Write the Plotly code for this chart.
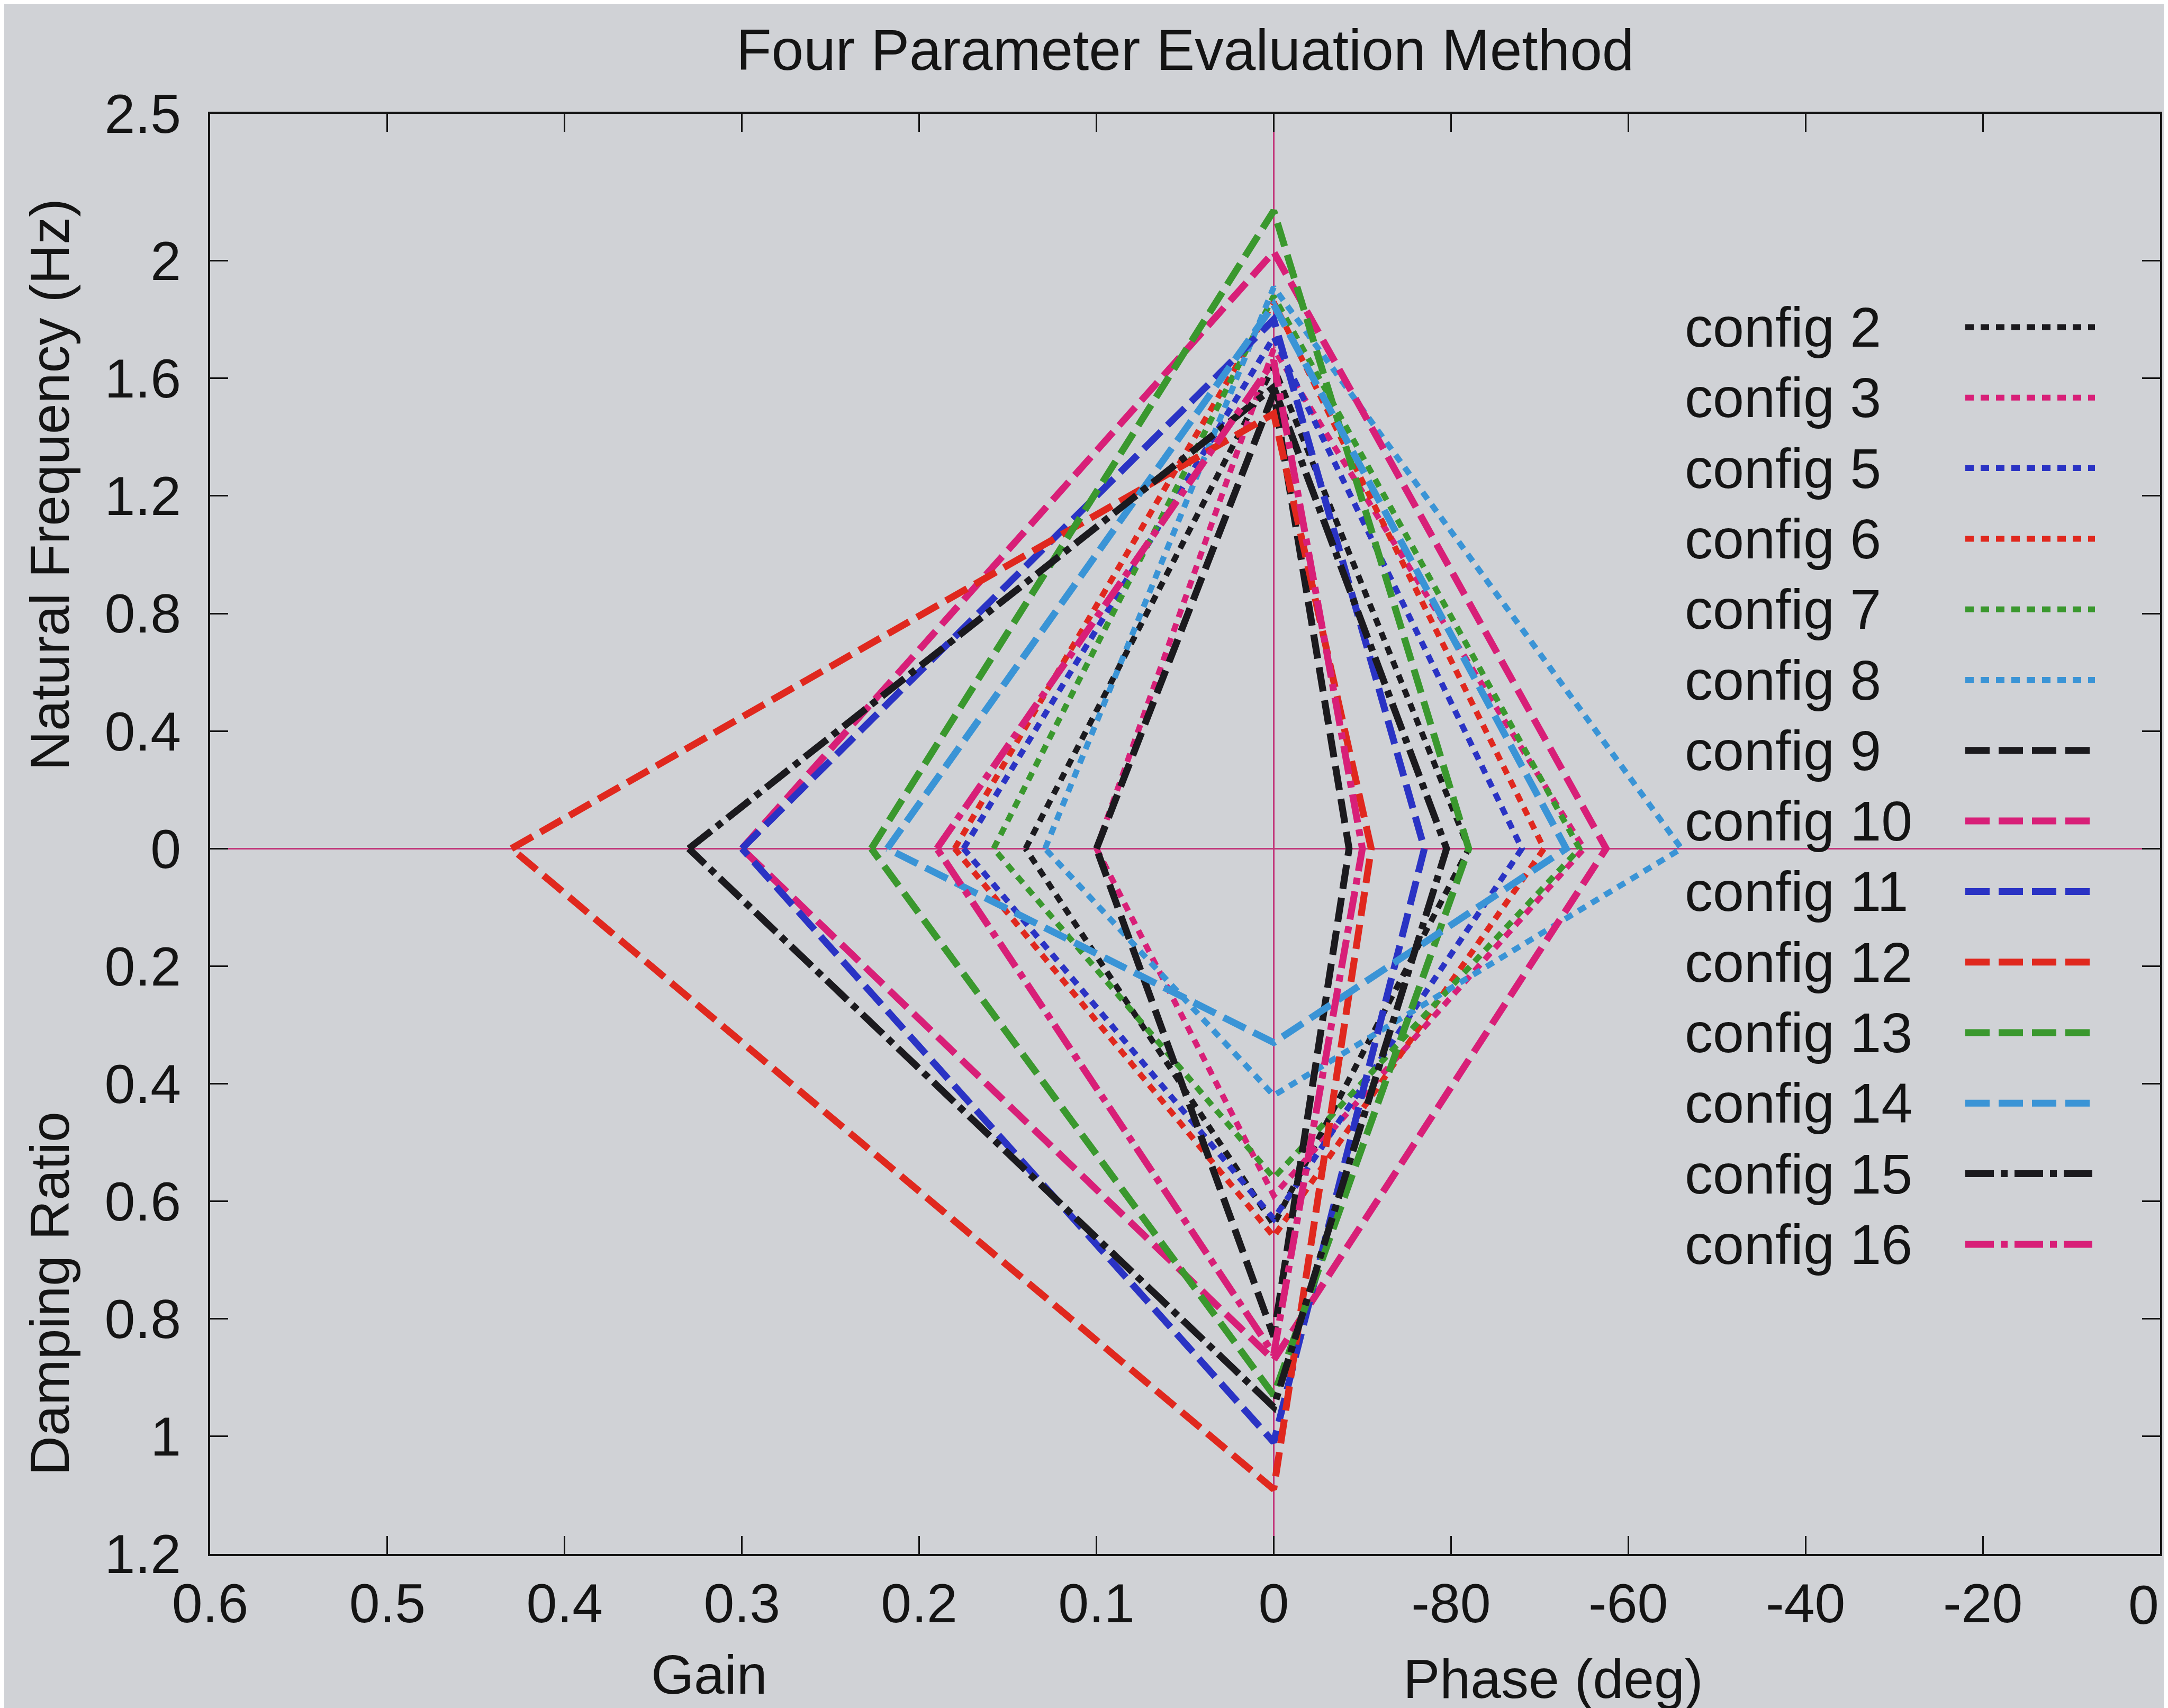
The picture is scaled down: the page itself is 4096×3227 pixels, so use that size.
import plotly.graph_objects as go

# ---- data ----
configs = ["config 2", "config 3", "config 5", "config 6", "config 7", "config 8",
           "config 9", "config 10", "config 11", "config 12", "config 13", "config 14",
           "config 15", "config 16"]
gain = [0.14, 0.10, 0.175, 0.18, 0.158, 0.129, 0.10, 0.30, 0.30, 0.43, 0.227, 0.218, 0.33, 0.19]
nat_freq_hz = [1.64, 1.70, 1.74, 1.86, 1.88, 1.91, 1.55, 2.03, 1.80, 1.48, 2.17, 1.85, 1.57, 1.66]
phase_deg = [-78, -65, -72, -69.5, -65.5, -54, -91.5, -62.5, -83, -89, -78, -67, -80.5, -90]
damping = [0.64, 0.59, 0.63, 0.66, 0.56, 0.42, 0.83, 0.87, 1.01, 1.09, 0.93, 0.33, 0.95, 0.86]

BLACK, PINK, BLUE, RED, GREEN, SKY = "#1b1a1e", "#d81f78", "#2a33c4", "#e0281e", "#3a982e", "#3a94d6"
line_colors = [BLACK, PINK, BLUE, RED, GREEN, SKY,
               BLACK, PINK, BLUE, RED, GREEN, SKY,
               BLACK, PINK]
DOT, DASH, DASHDOT = "16px,13px", "46px,17px", "54px,13px,13px,13px"
line_dashes = [DOT] * 6 + [DASH] * 6 + [DASHDOT] * 2
line_widths = [11] * 6 + [13] * 8

x_tick_vals = [-0.6, -0.5, -0.4, -0.3, -0.2, -0.1, 0.0, 0.1, 0.2, 0.3, 0.4, 0.5]
x_tick_text = ["0.6", "0.5", "0.4", "0.3", "0.2", "0.1", "0", "-80", "-60", "-40", "-20", "0"]
y_tick_vals = [1.25, 1.0, 0.8, 0.6, 0.4, 0.2, 0.0, -0.2, -0.4, -0.6, -0.8, -1.0, -1.2]
y_tick_text = ["2.5", "2", "1.6", "1.2", "0.8", "0.4", "0", "0.2", "0.4", "0.6", "0.8", "1", "1.2"]

FONT = "Liberation Sans, Arial, sans-serif"
TXT = "#141414"
BG = "#d0d2d6"

fig = go.Figure()
for i, name in enumerate(configs):
    # four-quadrant mapping: gain to the left, phase to the right,
    # natural frequency upward (half scale), damping ratio downward
    xg = -gain[i]
    yf = nat_freq_hz[i] * 0.5
    xp = (phase_deg[i] + 100.0) / 200.0
    yd = -damping[i]
    fig.add_trace(go.Scatter(
        x=[xg, 0, xp, 0, xg], y=[0, yf, 0, yd, 0],
        mode="lines", name=name, showlegend=False,
        line=dict(color=line_colors[i], dash=line_dashes[i], width=line_widths[i]),
        hoverinfo="name"))

# plot-area geometry in pixels (for key placement)
W, H = 4096, 3227
ML, MR, MT, MB = 389, 23, 207, 299
PW, PH = W - ML - MR, H - MT - MB

def px_to_paper_x(px):
    return (px - ML) / PW

def px_to_paper_y(py):
    return (H - MB - py) / PH

annotations = [
    dict(text="Four Parameter Evaluation Method", x=0.5, y=px_to_paper_y(86),
         xref="paper", yref="paper", showarrow=False, xanchor="center", yanchor="middle",
         font=dict(family=FONT, size=109, color=TXT)),
    dict(text="Gain", x=px_to_paper_x(1332), y=px_to_paper_y(3156),
         xref="paper", yref="paper", showarrow=False, xanchor="center", yanchor="middle",
         font=dict(family=FONT, size=104, color=TXT)),
    dict(text="Phase (deg)", x=px_to_paper_x(2926), y=px_to_paper_y(3164),
         xref="paper", yref="paper", showarrow=False, xanchor="center", yanchor="middle",
         font=dict(family=FONT, size=104, color=TXT)),
    dict(text="Natural Frequency (Hz)", x=px_to_paper_x(86), y=px_to_paper_y(908),
         xref="paper", yref="paper", showarrow=False, xanchor="center", yanchor="middle",
         textangle=-90, font=dict(family=FONT, size=104, color=TXT)),
    dict(text="Damping Ratio", x=px_to_paper_x(86), y=px_to_paper_y(2436),
         xref="paper", yref="paper", showarrow=False, xanchor="center", yanchor="middle",
         textangle=-90, font=dict(family=FONT, size=104, color=TXT)),
    # last phase tick label (0 deg) sits at the right border; kept inside the page
    dict(text=x_tick_text[-1], x=x_tick_vals[-1], y=px_to_paper_y(3024),
         xref="x", yref="paper", showarrow=False, xanchor="right", yanchor="middle",
         font=dict(family=FONT, size=104, color=TXT)),
]

shapes = []
KEY_TEXT_X = px_to_paper_x(3173)
KEY_X0, KEY_X1 = px_to_paper_x(3705), px_to_paper_x(3950)
for i, name in enumerate(configs):
    yrow = px_to_paper_y(610 + 133.3 * i)
    annotations.append(dict(text=name, x=KEY_TEXT_X, y=yrow, xref="paper", yref="paper",
                            showarrow=False, xanchor="left", yanchor="middle",
                            font=dict(family=FONT, size=106, color=TXT)))
    shapes.append(dict(type="line", xref="paper", yref="paper",
                       x0=KEY_X0, x1=KEY_X1, y0=yrow, y1=yrow,
                       line=dict(color=line_colors[i], dash=line_dashes[i], width=line_widths[i])))

axis_common = dict(
    showgrid=False, showline=True, linecolor=TXT, linewidth=4, mirror="ticks",
    ticks="inside", ticklen=34, tickwidth=3, tickcolor=TXT,
    zeroline=True, zerolinecolor="#c2377a", zerolinewidth=3,
    tickfont=dict(family=FONT, size=104, color=TXT),
)

fig.update_layout(
    width=W, height=H,
    margin=dict(l=ML, r=MR, t=MT, b=MB, pad=0),
    paper_bgcolor=BG, plot_bgcolor=BG,
    showlegend=False,
    xaxis=dict(range=[-0.6, 0.5], tickmode="array", tickvals=x_tick_vals, ticktext=x_tick_text[:-1] + [""],
               ticklabelstandoff=0, **axis_common),
    yaxis=dict(range=[-1.2, 1.25], tickmode="array", tickvals=y_tick_vals, ticktext=y_tick_text,
               ticklabelstandoff=30, **axis_common),
    annotations=annotations,
    shapes=shapes,
)

fig.write_html("out.html")
